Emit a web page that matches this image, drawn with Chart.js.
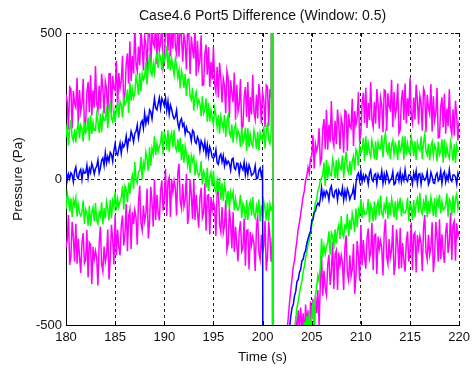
<!DOCTYPE html>
<html>
<head>
  <title>Case4.6 Port5 Difference</title>
  <script src="https://cdn.jsdelivr.net/npm/chart.js"></script>
  <style>
    body { margin: 0; padding: 0; background: #fff; }
    #chart-container { width: 475px; height: 370px; }
  </style>
</head>
<body>

  <div id="chart-container">
    <canvas id="myChart"></canvas>
  </div>

  <script>
    // time stamps (s), one sample every 0.125 s
    const time = [
      180,180.125,180.25,180.375,180.5,180.625,180.75,180.875,
      181,181.125,181.25,181.375,181.5,181.625,181.75,181.875,
      182,182.125,182.25,182.375,182.5,182.625,182.75,182.875,
      183,183.125,183.25,183.375,183.5,183.625,183.75,183.875,
      184,184.125,184.25,184.375,184.5,184.625,184.75,184.875,
      185,185.125,185.25,185.375,185.5,185.625,185.75,185.875,
      186,186.125,186.25,186.375,186.5,186.625,186.75,186.875,
      187,187.125,187.25,187.375,187.5,187.625,187.75,187.875,
      188,188.125,188.25,188.375,188.5,188.625,188.75,188.875,
      189,189.125,189.25,189.375,189.5,189.625,189.75,189.875,
      190,190.125,190.25,190.375,190.5,190.625,190.75,190.875,
      191,191.125,191.25,191.375,191.5,191.625,191.75,191.875,
      192,192.125,192.25,192.375,192.5,192.625,192.75,192.875,
      193,193.125,193.25,193.375,193.5,193.625,193.75,193.875,
      194,194.125,194.25,194.375,194.5,194.625,194.75,194.875,
      195,195.125,195.25,195.375,195.5,195.625,195.75,195.875,
      196,196.125,196.25,196.375,196.5,196.625,196.75,196.875,
      197,197.125,197.25,197.375,197.5,197.625,197.75,197.875,
      198,198.125,198.25,198.375,198.5,198.625,198.75,198.875,
      199,199.125,199.25,199.375,199.5,199.625,199.75,199.875,
      200,200.125,200.25,200.375,200.5,200.625,200.75,200.875,
      201,201.125,201.25,201.375,201.5,201.625,201.75,201.875,
      202,202.125,202.25,202.375,202.5,202.625,202.75,202.875,
      203,203.125,203.25,203.375,203.5,203.625,203.75,203.875,
      204,204.125,204.25,204.375,204.5,204.625,204.75,204.875,
      205,205.125,205.25,205.375,205.5,205.625,205.75,205.875,
      206,206.125,206.25,206.375,206.5,206.625,206.75,206.875,
      207,207.125,207.25,207.375,207.5,207.625,207.75,207.875,
      208,208.125,208.25,208.375,208.5,208.625,208.75,208.875,
      209,209.125,209.25,209.375,209.5,209.625,209.75,209.875,
      210,210.125,210.25,210.375,210.5,210.625,210.75,210.875,
      211,211.125,211.25,211.375,211.5,211.625,211.75,211.875,
      212,212.125,212.25,212.375,212.5,212.625,212.75,212.875,
      213,213.125,213.25,213.375,213.5,213.625,213.75,213.875,
      214,214.125,214.25,214.375,214.5,214.625,214.75,214.875,
      215,215.125,215.25,215.375,215.5,215.625,215.75,215.875,
      216,216.125,216.25,216.375,216.5,216.625,216.75,216.875,
      217,217.125,217.25,217.375,217.5,217.625,217.75,217.875,
      218,218.125,218.25,218.375,218.5,218.625,218.75,218.875,
      219,219.125,219.25,219.375,219.5,219.625,219.75,219.875,
      220
    ];

    // mean difference (blue), Pa
    const meanDiff = [
      30,-5,17,1, 21,14,-10,27,
      41,8,2,24, 33,-2,31,20,
      21,47,5,36, 22,53,39,17,
      36,43,65,21, 37,64,72,46,
      90,55,77,61, 91,84,60,97,
      121,88,82,104, 123,88,121,110,
      121,147,105,136, 132,163,149,127,
      156,163,185,141, 165,192,200,174,
      225,190,212,196, 237,230,206,243,
      276,243,237,259, 278,243,276,265,
      251,277,235,266, 222,253,239,217,
      206,213,235,191, 172,199,207,181,
      190,155,177,161, 161,154,130,167,
      161,128,122,144, 133,98,131,120,
      101,127,85,116, 79,110,96,74,
      71,78,100,56, 50,77,85,59,
      80,45,67,51, 61,54,30,67,
      71,38,32,54, 53,18,51,40,
      31,57,15,46, 17,48,34,12,
      16,23,45,1, 2,29,37,11,
      30,-3000,-3000,-3000, -3000,-3000,-3000,-3000,
      -3000,-3000,-3000,-3000, -3000,-3000,-3000,-3000,
      -3000,-3000,-3000,-3000, -900,-610,-505,-470,
      -440,-430,-400,-385, -350,-345,-320,-310,
      -280,-275,-255,-245, -220,-205,-190,-180,
      -145,-140,-115,-110, -92,-82,-90,-70,
      -30,-65,-43,-59, -41,-48,-72,-35,
      -24,-57,-63,-41, -37,-72,-39,-50,
      -56,-30,-72,-41, -65,-34,-48,-70,
      -57,-50,-28,-72, -15,12,20,-6,
      25,-10,12,-4, 14,7,-17,20,
      31,-2,-8,14, 18,-17,16,5,
      1,27,-15,16, -8,23,9,-13,
      -4,3,25,-19, -15,12,20,-6,
      25,-10,12,-4, 31,-2,-8,14,
      14,7,-17,20, 1,27,-15,16,
      18,-17,16,5, -4,3,25,-19,
      -8,23,9,-13, -15,12,20,-6,
      1,27,-15,16, 25,-10,12,-4,
      31,-2,-8,14, 14,7,-17,20,
      8
    ];

    // mean + 1 std (green)
    const upper1 = [
      142,190,114,170, 203,143,131,171,
      124,172,188,140, 184,172,128,196,
      159,171,211,131, 218,154,194,166,
      166,222,198,158, 224,160,220,200,
      202,250,174,230, 268,208,196,236,
      194,242,258,210, 266,254,210,278,
      254,266,306,226, 331,267,307,279,
      296,352,328,288, 364,300,360,340,
      352,400,324,380, 428,368,356,396,
      364,412,428,380, 428,416,372,440,
      404,416,456,376, 436,372,412,384,
      356,412,388,348, 374,310,370,350,
      312,360,284,340, 343,283,271,311,
      234,282,298,250, 271,259,215,283,
      224,236,276,196, 261,197,237,209,
      186,242,218,178, 219,155,215,195,
      172,220,144,200, 218,158,146,186,
      124,172,188,140, 166,154,110,178,
      124,136,176,96, 174,110,150,122,
      111,167,143,103, 162,98,158,138,
      132,180,104,160, 193,133,121,161,
      3000,-3000,-3000,-3000, -3000,-3000,-3000,-3000,
      -3000,-3000,-3000,-3000, -3000,-3000,-3000,-3000,
      -3000,-700,-520,-480, -440,-420,-390,-370,
      -350,-320,-300,-270, -250,-225,-210,-185,
      -160,-130,-110,-80, -70,-40,-30,-5,
      4,16,56,-24, 66,2,42,14,
      11,67,43,3, 64,0,60,40,
      32,80,4,60, 93,33,21,61,
      14,62,78,30, 101,89,45,113,
      89,101,141,61, 146,82,122,94,
      76,132,108,68, 129,65,125,105,
      102,150,74,130, 158,98,86,126,
      69,117,133,85, 121,109,65,133,
      94,106,146,66, 146,82,122,94,
      86,142,118,78, 129,65,125,105,
      97,145,69,125, 153,93,81,121,
      64,112,128,80, 116,104,60,128,
      84,96,136,56, 136,72,112,84,
      71,127,103,63, 119,55,115,95,
      95
    ];

    // mean - 1 std (green)
    const lower1 = [
      -104,-48,-72,-112, -66,-130,-70,-90,
      -64,-128,-88,-116, -126,-114,-74,-154,
      -104,-116,-160,-92, -161,-113,-97,-145,
      -82,-142,-154,-114, -128,-80,-156,-100,
      -134,-78,-102,-142, -71,-135,-75,-95,
      -44,-108,-68,-96, -76,-64,-24,-104,
      -24,-36,-80,-12, -51,-3,13,-35,
      58,-2,-14,26, 27,75,-1,55,
      36,92,68,28, 109,45,105,85,
      146,82,122,94, 112,124,164,84,
      156,144,100,168, 94,142,158,110,
      168,108,96,136, 92,140,64,120,
      56,112,88,48, 84,20,80,60,
      76,12,52,24, 9,21,61,-19,
      26,14,-30,38, -41,7,23,-25,
      28,-32,-44,-4, -43,5,-71,-15,
      -74,-18,-42,-82, -41,-105,-45,-65,
      -44,-108,-68,-96, -106,-94,-54,-134,
      -84,-96,-140,-72, -141,-93,-77,-125,
      -62,-122,-134,-94, -118,-70,-146,-90,
      -134,-78,-102,-142, -81,-145,-85,-105,
      -95,-3000,-3000,-3000, -3000,-3000,-3000,-3000,
      -3000,-3000,-3000,-3000, -3000,-3000,-3000,-3000,
      -3000,-3000,-3000,-3000, -3000,-3000,-3000,-3000,
      -3000,-700,-490,-560, -470,-530,-455,-510,
      -480,-420,-510,-400, -370,-330,-350,-300,
      -204,-268,-228,-256, -231,-219,-179,-259,
      -184,-196,-240,-172, -221,-173,-157,-205,
      -127,-187,-199,-159, -168,-120,-196,-140,
      -174,-118,-142,-182, -101,-165,-105,-125,
      -69,-133,-93,-121, -121,-109,-69,-149,
      -89,-101,-145,-77, -141,-93,-77,-125,
      -57,-117,-129,-89, -108,-60,-136,-80,
      -124,-68,-92,-132, -76,-140,-80,-100,
      -64,-128,-88,-116, -116,-104,-64,-144,
      -84,-96,-140,-72, -131,-83,-67,-115,
      -47,-107,-119,-79, -103,-55,-131,-75,
      -119,-63,-87,-127, -66,-130,-70,-90,
      -54,-118,-78,-106, -101,-89,-49,-129,
      -69,-81,-125,-57, -116,-68,-52,-100,
      -75
    ];

    // mean + 2 std (magenta)
    const upper2 = [
      289,264,170,315, 309,173,301,258,
      245,347,185,305, 232,257,343,172,
      195,298,332,229, 355,218,304,244,
      387,259,234,319, 241,360,309,224,
      334,309,215,360, 361,225,353,310,
      303,405,243,363, 311,336,422,251,
      293,396,430,327, 472,335,421,361,
      522,394,369,454, 389,508,457,372,
      489,464,370,515, 516,380,508,465,
      453,555,393,513, 441,466,552,381,
      403,506,540,437, 557,420,506,446,
      582,454,429,514, 419,538,487,402,
      494,469,375,520, 496,360,488,445,
      413,515,353,473, 381,406,492,321,
      323,426,460,357, 452,315,401,341,
      452,324,299,384, 279,398,347,262,
      344,319,225,370, 346,210,338,295,
      263,365,203,323, 231,256,342,171,
      178,281,315,212, 332,195,281,221,
      357,229,204,289, 207,326,275,190,
      296,271,177,322, 316,180,308,280,
      3000,-3000,-3000,-3000, -3000,-3000,-3000,-3000,
      -3000,-3000,-3000,-800, -520,-470,-420,-380,
      -340,-300,-280,-240, -210,-170,-150,-120,
      -90,-60,-40,-5, 10,40,20,70,
      78,150,36,120, 96,114,174,54,
      68,171,205,102, 237,100,186,126,
      267,139,114,199, 119,238,187,102,
      209,184,90,235, 231,95,223,180,
      173,275,113,233, 186,211,297,126,
      158,261,295,192, 312,175,261,201,
      332,204,179,264, 189,308,257,172,
      279,254,160,305, 301,165,293,250,
      238,340,178,298, 216,241,327,156,
      168,271,305,202, 327,190,276,216,
      347,219,194,279, 204,323,272,187,
      284,259,165,310, 296,160,288,245,
      223,325,163,283, 201,226,312,141,
      143,246,280,177, 292,155,241,181,
      307,179,154,239, 149,268,217,132,
      200
    ];

    // mean - 2 std (magenta)
    const lower2 = [
      -234,-209,-123,-294, -266,-147,-198,-283,
      -153,-290,-204,-264, -322,-219,-185,-288,
      -277,-175,-337,-217, -224,-360,-232,-275,
      -246,-271,-365,-220, -163,-291,-316,-231,
      -284,-259,-173,-344, -276,-157,-208,-293,
      -123,-260,-174,-234, -262,-159,-125,-228,
      -187,-85,-247,-127, -104,-240,-112,-155,
      -106,-131,-225,-80, -23,-151,-176,-91,
      -144,-119,-33,-204, -146,-27,-78,-163,
      -3,-140,-54,-114, -142,-39,-5,-108,
      -67,35,-127,-7, 6,-130,-2,-45,
      -6,-31,-125,20, 52,-76,-101,-16,
      -94,-69,17,-154, -121,-2,-53,-138,
      -3,-140,-54,-114, -167,-64,-30,-133,
      -117,-15,-177,-57, -54,-190,-62,-105,
      -76,-101,-195,-50, -28,-156,-181,-96,
      -184,-159,-73,-244, -221,-102,-153,-238,
      -113,-250,-164,-224, -282,-179,-145,-248,
      -237,-135,-297,-177, -174,-310,-182,-225,
      -196,-221,-315,-170, -123,-251,-276,-191,
      -254,-229,-143,-314, -266,-147,-198,-283,
      -200,-3000,-3000,-3000, -3000,-3000,-3000,-3000,
      -3000,-3000,-3000,-3000, -3000,-3000,-3000,-3000,
      -3000,-3000,-650,-470, -530,-450,-510,-440,
      -520,-460,-540,-430, -500,-450,-560,-420,
      -480,-410,-530,-400, -460,-380,-500,-360,
      -263,-400,-314,-374, -397,-294,-260,-363,
      -317,-215,-377,-257, -244,-380,-252,-295,
      -261,-286,-380,-235, -193,-321,-346,-261,
      -334,-309,-223,-394, -331,-212,-263,-348,
      -158,-295,-209,-269, -307,-204,-170,-273,
      -252,-150,-312,-192, -189,-325,-197,-240,
      -211,-236,-330,-185, -138,-266,-291,-206,
      -269,-244,-158,-329, -291,-172,-223,-308,
      -168,-305,-219,-279, -317,-214,-180,-283,
      -252,-150,-312,-192, -184,-320,-192,-235,
      -196,-221,-315,-170, -123,-251,-276,-191,
      -259,-234,-148,-319, -266,-147,-198,-283,
      -138,-275,-189,-249, -287,-184,-150,-253,
      -217,-115,-277,-157, -144,-280,-152,-195,
      -180
    ];

    const xTicks = { min: 180, max: 220, step: 5 };
    const yTicks = { min: -500, max: 500, step: 500 };

    const pts = vals => time.map((t, i) => ({ x: t, y: vals[i] }));
    const line = (vals, color) => ({
      data: pts(vals),
      borderColor: color,
      borderWidth: 1.5,
      pointRadius: 0,
      tension: 0,
      fill: false
    });

    // short inward tick marks on all four sides
    const tickMarks = {
      id: 'tickMarks',
      afterDraw(chart) {
        const { ctx, chartArea: a, scales: { x, y } } = chart;
        ctx.save();
        ctx.strokeStyle = '#000';
        ctx.lineWidth = 1;
        ctx.beginPath();
        x.ticks.forEach(t => {
          const px = Math.round(x.getPixelForValue(t.value)) + 0.5;
          ctx.moveTo(px, a.bottom); ctx.lineTo(px, a.bottom - 4);
          ctx.moveTo(px, a.top); ctx.lineTo(px, a.top + 4);
        });
        y.ticks.forEach(t => {
          const py = Math.round(y.getPixelForValue(t.value)) + 0.5;
          ctx.moveTo(a.left, py); ctx.lineTo(a.left + 4, py);
          ctx.moveTo(a.right, py); ctx.lineTo(a.right - 4, py);
        });
        ctx.stroke();
        ctx.restore();
      }
    };

    const font = { family: "'Liberation Sans', Arial, sans-serif" };

    const ctx = document.getElementById('myChart').getContext('2d');
    const chart = new Chart(ctx, {
      type: 'line',
      data: {
        datasets: [
          line(meanDiff, '#0000ff'),
          line(upper1, '#00ff00'),
          line(lower1, '#00ff00'),
          line(upper2, '#ff00ff'),
          line(lower2, '#ff00ff')
        ]
      },
      options: {
        responsive: true,
        maintainAspectRatio: false,
        animation: false,
        devicePixelRatio: 1,
        layout: { padding: { left: 0, right: 13, top: 0, bottom: 0 } },
        plugins: {
          legend: { display: false },
          tooltip: { enabled: false },
          title: {
            display: true,
            fullSize: false,
            text: 'Case4.6 Port5 Difference (Window: 0.5)',
            color: '#111',
            font: { ...font, size: 14, weight: 'normal' },
            padding: { top: 8, bottom: 8.2 }
          }
        },
        scales: {
          x: {
            type: 'linear',
            min: xTicks.min,
            max: xTicks.max,
            afterFit: s => { s.height = 45; },
            ticks: { stepSize: xTicks.step, color: '#111', font: { ...font, size: 13 }, padding: 5, maxRotation: 0 },
            grid: { color: '#222', drawTicks: false },
            border: { display: true, color: '#000', width: 1, dash: [3, 3] },
            title: { display: true, text: 'Time (s)', color: '#111', font: { ...font, size: 13.5 }, padding: { top: 0, bottom: 5 } }
          },
          y: {
            min: yTicks.min,
            max: yTicks.max,
            afterFit: s => { s.width = 66; },
            ticks: { stepSize: yTicks.step, color: '#111', font: { ...font, size: 13 }, padding: 4 },
            grid: { color: '#222', drawTicks: false },
            border: { display: true, color: '#000', width: 1, dash: [3, 3] },
            title: { display: true, text: 'Pressure (Pa)', color: '#111', font: { ...font, size: 13.5 }, padding: { top: 10, bottom: 0 } }
          }
        }
      },
      plugins: [tickMarks]
    });
  </script>

</body>
</html>
